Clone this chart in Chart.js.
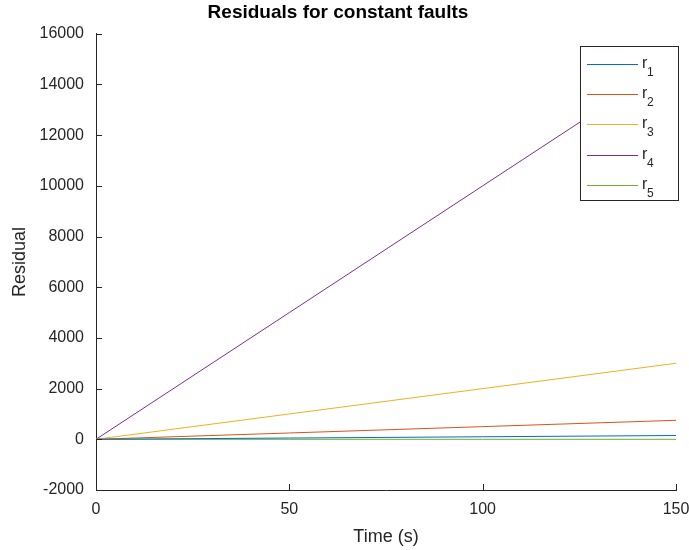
<!DOCTYPE html>
<html>
<head>
<meta charset="utf-8">
<script src="https://cdn.jsdelivr.net/npm/chart.js"></script>
<style>
  html, body { margin: 0; padding: 0; background: #fff; }
  #wrap { width: 689px; height: 550px; }
</style>
</head>
<body>
<div id="wrap"><canvas id="residualChart" width="689" height="550"></canvas></div>
<script>
// Data
const timeS = [0, 50, 100, 150];
const r1 = [0, 50, 100, 150];
const r2 = [0, 250, 500, 750];
const r3 = [0, 1000, 2000, 3000];
const r4 = [0, 5000, 10000, 15000];
const r5 = [0, 0, 0, 0];
const seriesNames = ['1', '2', '3', '4', '5'];
const seriesColors = ['#0072BD', '#D95319', '#EDB120', '#7E2F8E', '#77AC30'];
const yTicks = [-2000, 0, 2000, 4000, 6000, 8000, 10000, 12000, 14000, 16000];
const xTicks = [0, 50, 100, 150];

const FONT = '"Liberation Sans", Arial, sans-serif';
const AXIS = '#262626';

function toPoints(vals) {
  return timeS.map((t, i) => ({ x: t, y: vals[i] }));
}

// inward tick marks, MATLAB style
const inwardTicks = {
  id: 'inwardTicks',
  afterDraw(chart) {
    const ctx = chart.ctx;
    const xs = chart.scales.x, ys = chart.scales.y;
    const area = chart.chartArea;
    ctx.save();
    ctx.strokeStyle = AXIS;
    ctx.lineWidth = 1;
    ctx.beginPath();
    xTicks.forEach(v => {
      const px = Math.round(xs.getPixelForValue(v)) + 0.5;
      ctx.moveTo(px, area.bottom);
      ctx.lineTo(px, area.bottom - 6);
    });
    yTicks.forEach(v => {
      const py = Math.round(ys.getPixelForValue(v)) + 0.5;
      ctx.moveTo(area.left, py);
      ctx.lineTo(area.left + 6, py);
    });
    ctx.stroke();
    ctx.restore();
  }
};

// legend box with subscripted labels
const subLegend = {
  id: 'subLegend',
  afterDraw(chart) {
    const ctx = chart.ctx;
    const boxL = 580, boxT = 46, boxW = 98, boxH = 154;
    ctx.save();
    ctx.fillStyle = '#fff';
    ctx.fillRect(boxL, boxT, boxW, boxH);
    ctx.strokeStyle = AXIS;
    ctx.lineWidth = 1;
    ctx.strokeRect(boxL + 0.5, boxT + 0.5, boxW, boxH);
    chart.data.datasets.forEach((ds, i) => {
      const cy = Math.round(boxT + 18 + i * 30.2) + 0.5;
      ctx.strokeStyle = ds.borderColor;
      ctx.beginPath();
      ctx.moveTo(boxL + 7, cy);
      ctx.lineTo(boxL + 58, cy);
      ctx.stroke();
      ctx.fillStyle = AXIS;
      ctx.textBaseline = 'alphabetic';
      ctx.textAlign = 'left';
      ctx.font = '16px ' + FONT;
      ctx.fillText('r', boxL + 62, cy + 3);
      ctx.font = '12px ' + FONT;
      ctx.fillText(seriesNames[i], boxL + 67, cy + 11);
    });
    ctx.restore();
  }
};

new Chart(document.getElementById('residualChart'), {
  type: 'line',
  data: {
    datasets: [r1, r2, r3, r4, r5].map((vals, i) => ({
      label: 'r' + seriesNames[i],
      data: toPoints(vals),
      borderColor: seriesColors[i],
      backgroundColor: seriesColors[i],
      borderWidth: 1,
      pointRadius: 0,
      tension: 0,
      fill: false
    }))
  },
  options: {
    responsive: false,
    animation: false,
    layout: { padding: { left: 0, right: 13, top: 0, bottom: 0 } },
    plugins: {
      legend: { display: false },
      tooltip: { enabled: false },
      title: {
        display: true,
        text: 'Residuals for constant faults',
        color: '#000',
        font: { family: FONT, size: 19, weight: 'bold' },
        padding: { top: 1, bottom: 10 }
      }
    },
    scales: {
      x: {
        type: 'linear',
        min: 0,
        max: 150,
        afterBuildTicks(scale) { scale.ticks = xTicks.map(v => ({ value: v })); },
        afterFit(scale) { scale.height = 60; scale.paddingLeft = 0; scale.paddingRight = 0; },
        grid: { display: false, drawTicks: false },
        border: { display: true, color: AXIS, width: 1 },
        ticks: { color: AXIS, font: { family: FONT, size: 16 }, padding: 10, maxRotation: 0, callback: v => String(v) },
        title: {
          display: true,
          text: 'Time (s)',
          color: AXIS,
          font: { family: FONT, size: 18 },
          padding: { top: 0, bottom: 2 }
        }
      },
      y: {
        type: 'linear',
        min: -2000,
        max: 16000,
        afterBuildTicks(scale) { scale.ticks = yTicks.map(v => ({ value: v })); },
        afterFit(scale) { scale.width = 96; scale.paddingTop = 0; scale.paddingBottom = 0; },
        grid: { display: false, drawTicks: false },
        border: { display: true, color: AXIS, width: 1 },
        ticks: { color: AXIS, font: { family: FONT, size: 16 }, padding: 12, callback: v => String(v) },
        title: {
          display: true,
          text: 'Residual',
          color: AXIS,
          font: { family: FONT, size: 18 },
          padding: { top: 9, bottom: 0 }
        }
      }
    }
  },
  plugins: [inwardTicks, subLegend]
});
</script>
</body>
</html>
